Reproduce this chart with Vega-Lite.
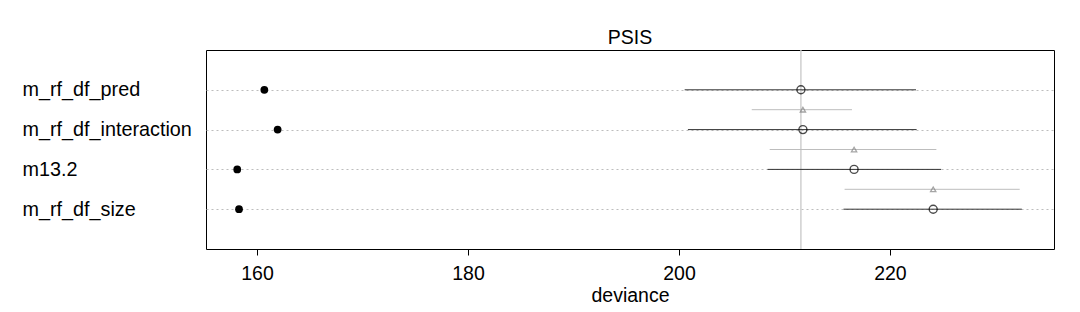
{
  "$schema": "https://vega.github.io/schema/vega-lite/v6.json",
  "width": 848,
  "height": 199,
  "autosize": {"type": "none"},
  "padding": {"left": 206, "top": 50, "right": 26, "bottom": 63},
  "config": {
    "font": "Liberation Sans",
    "view": {"stroke": "black", "strokeWidth": 1},
    "axis": {"labelFont": "Liberation Sans", "titleFont": "Liberation Sans"}
  },
  "title": {"text": "PSIS", "fontSize": 19.5, "fontWeight": "normal", "font": "Liberation Sans", "color": "black", "offset": 1},
  "datasets": {
    "models": [
      {"model": "m_rf_df_pred", "y": 7, "insample": 160.7, "psis": 211.56, "lo": 200.54, "hi": 222.47},
      {"model": "m_rf_df_interaction", "y": 5, "insample": 161.96, "psis": 211.75, "lo": 200.85, "hi": 222.53},
      {"model": "m13.2", "y": 3, "insample": 158.13, "psis": 216.6, "lo": 208.4, "hi": 224.85},
      {"model": "m_rf_df_size", "y": 1, "insample": 158.3, "psis": 224.1, "lo": 215.6, "hi": 232.5}
    ],
    "dse": [
      {"y": 6, "d": 211.75, "dlo": 206.9, "dhi": 216.4},
      {"y": 4, "d": 216.6, "dlo": 208.6, "dhi": 224.4},
      {"y": 2, "d": 224.1, "dlo": 215.7, "dhi": 232.3}
    ],
    "best": [{"v": 211.56}]
  },
  "layer": [
    {
      "data": {"name": "best"},
      "mark": {"type": "rule", "color": "#cccccc", "strokeWidth": 1.4},
      "encoding": {
        "x": {
          "field": "v", "type": "quantitative",
          "scale": {"domain": [155.17, 235.55], "nice": false, "zero": false},
          "axis": {
            "values": [160, 180, 200, 220], "title": "deviance", "grid": false,
            "domain": false, "tickColor": "black", "tickSize": 6, "labelFontSize": 19.5,
            "labelColor": "black", "labelPadding": 9.5, "titleFontSize": 19.5,
            "titleFontWeight": "normal", "titleColor": "black", "titlePadding": 3
          }
        }
      }
    },
    {
      "data": {"name": "dse"},
      "mark": {"type": "rule", "color": "#bdbdbd", "strokeWidth": 1},
      "encoding": {
        "x": {"field": "dlo", "type": "quantitative"},
        "x2": {"field": "dhi"},
        "y": {"field": "y", "type": "quantitative"}
      }
    },
    {
      "data": {"name": "dse"},
      "mark": {"type": "point", "shape": "triangle-up", "filled": false, "color": "#808080", "size": 28, "strokeWidth": 1.3},
      "encoding": {
        "x": {"field": "d", "type": "quantitative"},
        "y": {"field": "y", "type": "quantitative"}
      }
    },
    {
      "data": {"name": "models"},
      "mark": {"type": "rule", "color": "#333333", "strokeWidth": 1},
      "encoding": {
        "x": {"field": "lo", "type": "quantitative"},
        "x2": {"field": "hi"},
        "y": {
          "field": "y", "type": "quantitative",
          "scale": {"domain": [-1, 9], "nice": false, "zero": false},
          "axis": {
            "values": [1, 3, 5, 7], "title": null, "domain": false, "ticks": false,
            "labelAlign": "left", "labelPadding": 184, "labelFontSize": 19.8, "labelColor": "black",
            "labelExpr": "datum.value == 7 ? 'm_rf_df_pred' : datum.value == 5 ? 'm_rf_df_interaction' : datum.value == 3 ? 'm13.2' : 'm_rf_df_size'",
            "grid": true, "gridColor": "#bdbdbd", "gridDash": [2, 3], "gridWidth": 1
          }
        }
      }
    },
    {
      "data": {"name": "models"},
      "mark": {"type": "point", "shape": "circle", "filled": false, "color": "black", "size": 64, "strokeWidth": 1.4},
      "encoding": {
        "x": {"field": "psis", "type": "quantitative"},
        "y": {"field": "y", "type": "quantitative"}
      }
    },
    {
      "data": {"name": "models"},
      "mark": {"type": "point", "shape": "circle", "filled": true, "color": "black", "size": 60, "opacity": 1},
      "encoding": {
        "x": {"field": "insample", "type": "quantitative"},
        "y": {"field": "y", "type": "quantitative"}
      }
    }
  ]
}
